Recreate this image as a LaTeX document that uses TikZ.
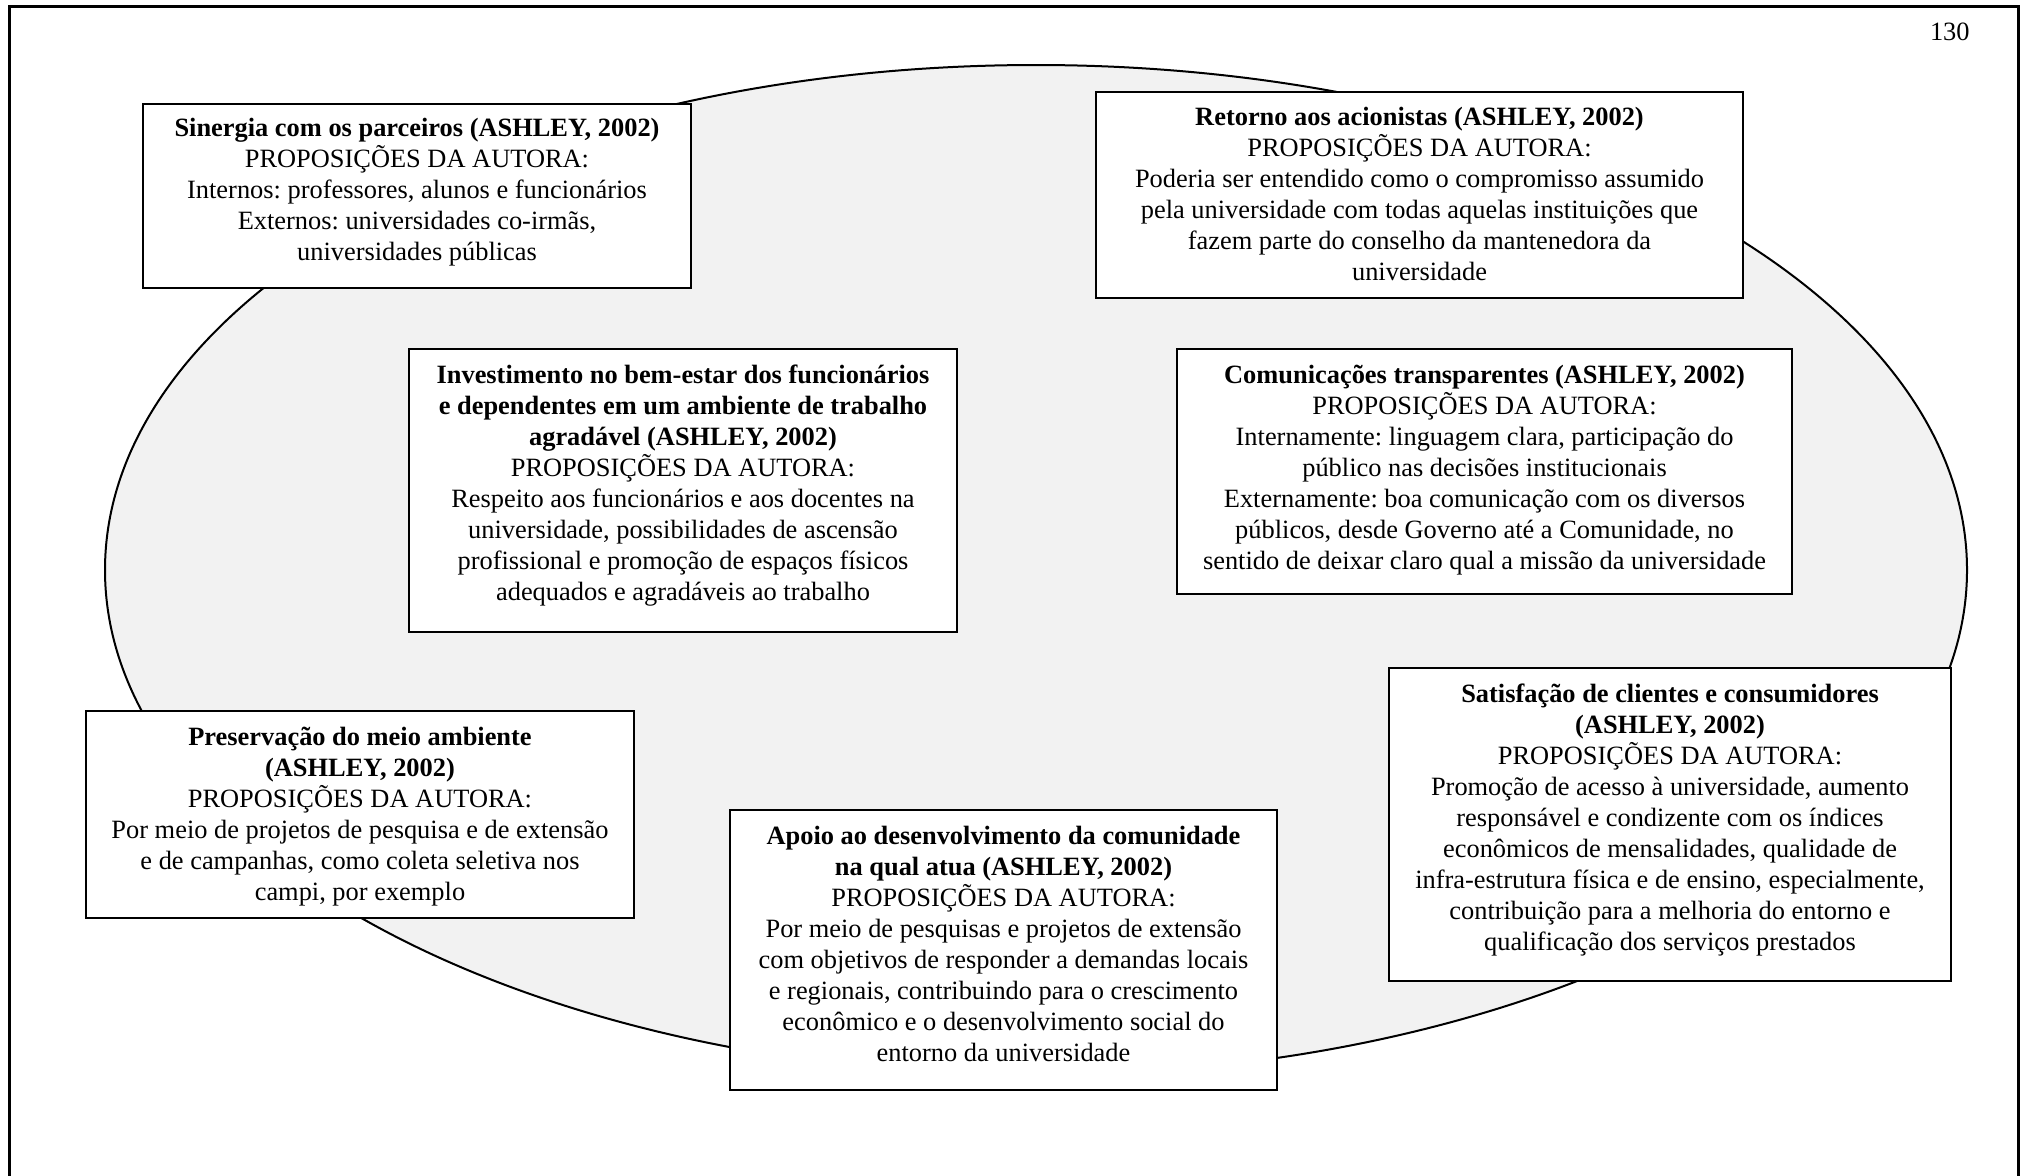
\documentclass[tikz,border=0pt]{standalone}
\usepackage{fontspec}
\setmainfont{Liberation Serif}
\frenchspacing
\begin{document}
\begin{tikzpicture}[x=0.5pt,y=-0.5pt]
\tikzset{
  box/.style={draw, fill=white, line width=1.1pt, inner sep=0pt},
  txt/.style={inner sep=0pt, align=center, anchor=north, font=\fontsize{13.2}{15.5}\selectfont},
  pagenum/.style={inner sep=0pt, font=\fontsize{13.2}{15.5}\selectfont}
}
\useasboundingbox (0,0) rectangle (2022,1175);
% outer page frame (open at the bottom)
\draw[line width=1.5pt] (9,1180) -- (9,6) -- (2018,6) -- (2018,1180);
\node[pagenum, anchor=base east] (pg) at (1970,40) {130};
% big ellipse
\draw[fill={rgb,255:red,242;green,242;blue,242}, line width=1pt] (1036,570) ellipse [x radius=931, y radius=505];

% Sinergia
\node[box, minimum width=274pt, minimum height=92pt] (sin) at (417,196) {};
\node[txt] (sin-t) at ([yshift=-7.5pt]sin.north) {\textbf{Sinergia com os parceiros (ASHLEY, 2002)}\\PROPOSIÇÕES DA AUTORA:\\Internos: professores, alunos e funcionários\\Externos: universidades co-irmãs,\\universidades públicas};

% Retorno
\node[box, minimum width=323.5pt, minimum height=103pt] (ret) at (1419.5,195) {};
\node[txt] (ret-t) at ([yshift=-8pt]ret.north) {\textbf{Retorno aos acionistas (ASHLEY, 2002)}\\PROPOSIÇÕES DA AUTORA:\\Poderia ser entendido como o compromisso assumido\\pela universidade com todas aquelas instituições que\\fazem parte do conselho da mantenedora da\\universidade};

% Investimento
\node[box, minimum width=274pt, minimum height=141.5pt] (inv) at (683,490.5) {};
\node[txt] (inv-t) at ([yshift=-8.5pt]inv.north) {\textbf{Investimento no bem-estar dos funcionários}\\\textbf{e dependentes em um ambiente de trabalho}\\\textbf{agradável (ASHLEY, 2002)}\\PROPOSIÇÕES DA AUTORA:\\Respeito aos funcionários e aos docentes na\\universidade, possibilidades de ascensão\\profissional e promoção de espaços físicos\\adequados e agradáveis ao trabalho};

% Comunicacoes
\node[box, minimum width=307.5pt, minimum height=122.5pt] (com) at (1484.5,471.5) {};
\node[txt] (com-t) at ([yshift=-8.5pt]com.north) {\textbf{Comunicações transparentes (ASHLEY, 2002)}\\PROPOSIÇÕES DA AUTORA:\\Internamente: linguagem clara, participação do\\público nas decisões institucionais\\Externamente: boa comunicação com os diversos\\públicos, desde Governo até a Comunidade, no\\sentido de deixar claro qual a missão da universidade};

% Preservacao
\node[box, minimum width=274pt, minimum height=103.5pt] (pre) at (360,814.5) {};
\node[txt] (pre-t) at ([yshift=-8.5pt]pre.north) {\textbf{Preservação do meio ambiente}\\\textbf{(ASHLEY, 2002)}\\PROPOSIÇÕES DA AUTORA:\\Por meio de projetos de pesquisa e de extensão\\e de campanhas, como coleta seletiva nos\\campi, por exemplo};

% Apoio
\node[box, minimum width=273.5pt, minimum height=140pt] (apo) at (1003.5,950) {};
\node[txt] (apo-t) at ([yshift=-8.5pt]apo.north) {\textbf{Apoio ao desenvolvimento da comunidade}\\\textbf{na qual atua (ASHLEY, 2002)}\\PROPOSIÇÕES DA AUTORA:\\Por meio de pesquisas e projetos de extensão\\com objetivos de responder a demandas locais\\e regionais, contribuindo para o crescimento\\econômico e o desenvolvimento social do\\entorno da universidade};

% Satisfacao
\node[box, minimum width=281pt, minimum height=156.5pt] (sat) at (1670,824.5) {};
\node[txt] (sat-t) at ([yshift=-8.5pt]sat.north) {\textbf{Satisfação de clientes e consumidores}\\\textbf{(ASHLEY, 2002)}\\PROPOSIÇÕES DA AUTORA:\\Promoção de acesso à universidade, aumento\\responsável e condizente com os índices\\econômicos de mensalidades, qualidade de\\infra-estrutura física e de ensino, especialmente,\\contribuição para a melhoria do entorno e\\qualificação dos serviços prestados};
\end{tikzpicture}
\end{document}
